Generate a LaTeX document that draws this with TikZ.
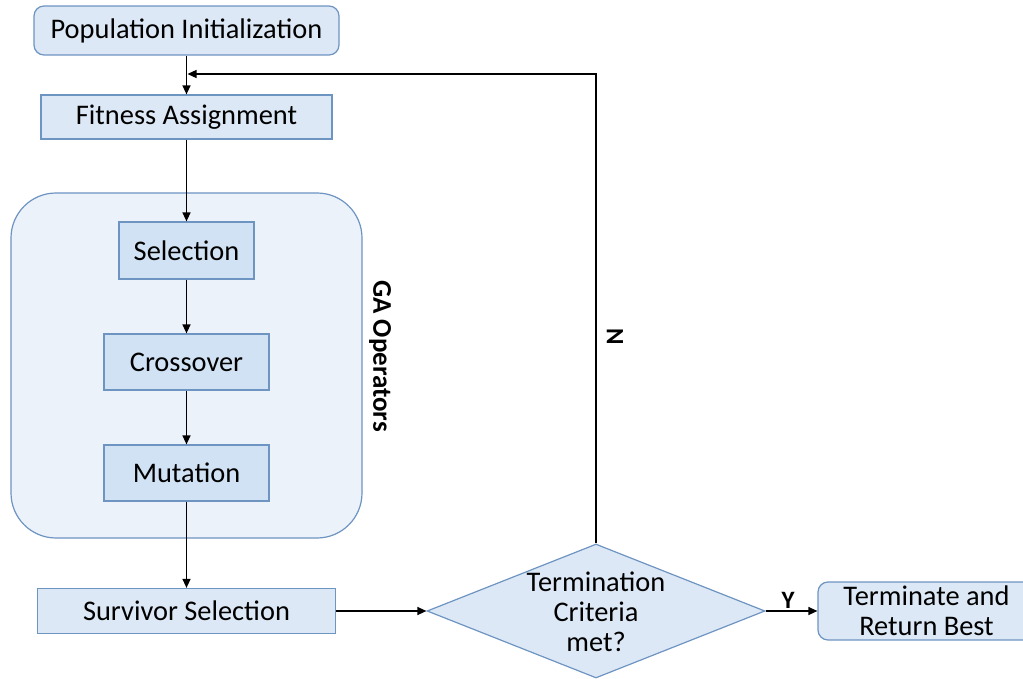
\documentclass[tikz,border=0pt]{standalone}
\usepackage{fontspec}
\setmainfont{Carlito}
\usetikzlibrary{arrows.meta,shapes.geometric}
\definecolor{boxfill}{HTML}{DCE8F5}
\definecolor{innerfill}{HTML}{D0E2F3}
\definecolor{groupfill}{HTML}{EBF2FA}
\definecolor{boxline}{HTML}{6E94C2}
\tikzset{
  procbox/.style={draw=boxline, fill=boxfill, line width=0.6pt, inner sep=0pt,
    font=\fontsize{14.2}{15}\selectfont, align=center},
  roundbox/.style={procbox, rounded corners=5pt},
  opbox/.style={procbox, fill=innerfill},
  groupbox/.style={draw=boxline, fill=groupfill, line width=0.6pt, rounded corners=22.5pt,
    inner sep=0pt},
  decision/.style={diamond, draw=boxline, fill=boxfill, line width=0.6pt, inner sep=0pt,
    shape aspect=2.52},
  flow/.style={draw=black, line width=0.65pt, -{Triangle[length=4.5pt,width=4pt]}},
  sidelabel/.style={font=\bfseries\fontsize{13.5}{14}\selectfont},
  branchlabel/.style={font=\bfseries\fontsize{12.5}{13}\selectfont}
}
\begin{document}
\begin{tikzpicture}[x=0.5pt,y=-0.5pt]
\useasboundingbox (0,0) rectangle (1023,679);

% GA operator group
\node[groupbox, minimum width=175.5pt, minimum height=172.5pt] (ga) at (186.5,365.5) {};
\node[sidelabel, rotate=-90] (galabel) at (380,356) {GA Operators};

% main steps
\node[roundbox, minimum width=152.5pt, minimum height=24.5pt] (pop) at (186.5,30.5) {Population Initialization};
\node[procbox, minimum width=145.5pt, minimum height=22pt] (fit) at (186.5,117) {Fitness Assignment};
\node[opbox, minimum width=67.5pt, minimum height=28.5pt] (sel) at (186.5,250.5) {Selection};
\node[opbox, minimum width=82.5pt, minimum height=28pt] (cro) at (186.5,362) {Crossover};
\node[opbox, minimum width=82.5pt, minimum height=28pt] (mut) at (186.5,473) {Mutation};
\node[procbox, minimum width=149pt, minimum height=22.5pt] (sur) at (186.5,611) {Survivor Selection};

% decision
\node[decision, minimum width=169pt, minimum height=67pt] (dec) at (596,611) {};
\node[font=\fontsize{14.2}{15}\selectfont, align=center] (dectext) at (596,612) {Termination\\Criteria\\met?};

% final step
\node[roundbox, minimum width=108.5pt, minimum height=29pt] (fin) at (926.5,611) {Terminate and\\Return Best};

% connectors
\coordinate (join) at (187.5,74);
\draw[flow] (pop) -- (fit);
\draw[flow] (fit) -- (sel);
\draw[flow] (sel) -- (cro);
\draw[flow] (cro) -- (mut);
\draw[flow] (mut) -- (sur);
\draw[flow] (sur.east) -- (dec.west);
\draw[flow] (dec.east) -- (fin.west);
\draw[flow] (dec.north) |- (join);

\node[branchlabel] (ylabel) at (788,600) {Y};
\node[branchlabel, rotate=-90] (nlabel) at (615,337) {N};
\end{tikzpicture}
\end{document}
